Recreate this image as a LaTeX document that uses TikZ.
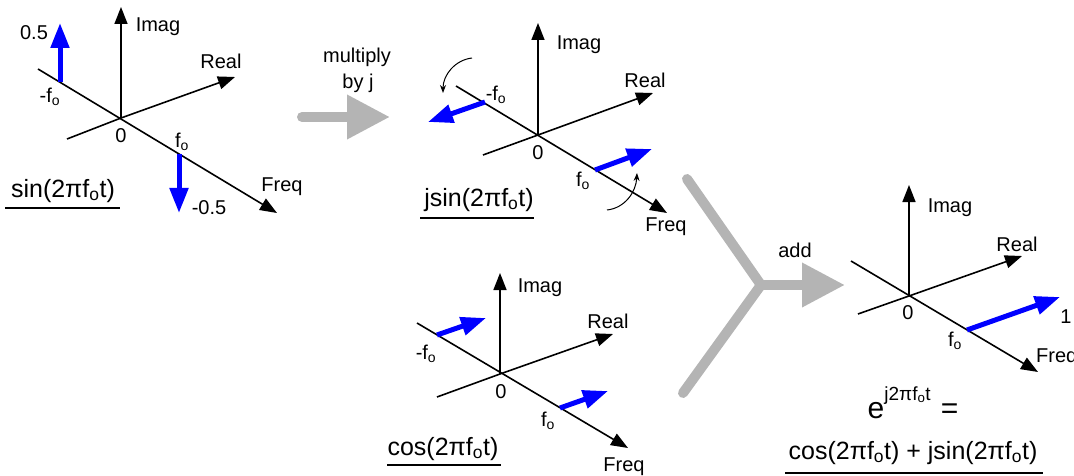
\documentclass[tikz,border=0pt]{standalone}
\usepackage{fontspec}
\setmainfont{Liberation Sans}
\usetikzlibrary{arrows.meta}
\definecolor{arrgray}{RGB}{180,180,180}
\definecolor{vecblue}{RGB}{0,0,255}
\begin{document}
\begin{tikzpicture}[x=1pt,y=-1pt,
  axis/.style={line width=1.6pt,-{Triangle[length=17pt,width=13pt]}},
  axline/.style={line width=1.6pt},
  vec/.style={draw=vecblue,line width=5pt,-{Triangle[length=25pt,width=18pt]},color=vecblue},
  rot/.style={line width=1pt,-{Stealth[length=8pt,width=6pt]}},
  lbl/.style={inner sep=0pt,font=\fontsize{20}{22}\selectfont},
  big/.style={inner sep=0pt,anchor=base,font=\fontsize{25}{28}\selectfont},
  uline/.style={line width=1.5pt},
  garrow/.style={draw=arrgray,line width=10pt,line cap=round,-{Triangle[length=43pt,width=42pt]},color=arrgray},
  gline/.style={draw=arrgray,line width=10pt,line cap=round,line join=round}]
\useasboundingbox (0,0) rectangle (1074,476);
\newcommand{\fo}{f\textsubscript{o}}
% ---------------- panel 1
\coordinate (O1) at (121,118);
\coordinate (I1) at (121,7);
\coordinate (Rb1) at (67,139);
\coordinate (Rt1) at (235,77);
\coordinate (Fb1) at (38,69);
\coordinate (Ft1) at (277,213);
\draw[axline] (Rb1) -- (O1);
\draw[axis] (O1) -- (Rt1);
\draw[axis] (Fb1) -- (Ft1);
\draw[axis] (O1) -- (I1);
\coordinate (a1s) at (60,82);
\coordinate (a1e) at (60,23);
\coordinate (b1s) at (179,154);
\coordinate (b1e) at (179,213);
\draw[vec] (a1s) -- (a1e);
\draw[vec] (b1s) -- (b1e);
\node[lbl] (imag1) at (158,27) {Imag};
\node[lbl] (real1) at (221,61) {Real};
\node[lbl] (freq1) at (282,187) {Freq};
\node[lbl] (zero1) at (121,136) {0};
\node[lbl] (pv1) at (34,33) {0.5};
\node[lbl] (mv1) at (209,208) {-0.5};
\node[lbl] (mf1) at (50,97) {-\fo};
\node[lbl] (pf1) at (182,142) {\fo};
\node[big] (t1) at (63,197) {sin(2π\fo t)};
\coordinate (u1a) at (5,208);
\coordinate (u1b) at (120,208);
\draw[uline] (u1a) -- (u1b);
% ---------------- gray arrow 1
\coordinate (g1s) at (302,117);
\coordinate (g1e) at (390,117);
\draw[garrow] (g1s) -- (g1e);
\node[lbl] (mul) at (357,57) {multiply};
\node[lbl] (byj) at (358,83) {by j};
% ---------------- panel 2
\coordinate (O2) at (538,135);
\coordinate (I2) at (538,23);
\coordinate (Rb2) at (483,155);
\coordinate (Rt2) at (653,93);
\coordinate (Fb2) at (456,86);
\coordinate (Ft2) at (667,213);
\draw[axline] (Rb2) -- (O2);
\draw[axis] (O2) -- (Rt2);
\draw[axis] (Fb2) -- (Ft2);
\draw[axis] (O2) -- (I2);
\coordinate (a2s) at (485,102);
\coordinate (a2e) at (428,122);
\coordinate (b2s) at (595,170);
\coordinate (b2e) at (652,149);
\draw[vec] (a2s) -- (a2e);
\draw[vec] (b2s) -- (b2e);
\coordinate (c1s) at (472,58);
\coordinate (c1e) at (443,93);
\draw[rot] (c1s) .. controls (455,60) and (443,75) .. (c1e);
\coordinate (c2s) at (607,210);
\coordinate (c2e) at (637,173);
\draw[rot] (c2s) .. controls (625,208) and (636,192) .. (c2e);
\node[lbl] (imag2) at (579,45) {Imag};
\node[lbl] (real2) at (645,80) {Real};
\node[lbl] (freq2) at (666,227) {Freq};
\node[lbl] (zero2) at (538,153) {0};
\node[lbl] (mf2) at (496,95) {-\fo};
\node[lbl] (pf2) at (583,181) {\fo};
\node[big] (t2) at (479,206) {jsin(2π\fo t)};
\coordinate (u2a) at (420,218);
\coordinate (u2b) at (534,218);
\draw[uline] (u2a) -- (u2b);
% ---------------- panel 3
\coordinate (O3) at (500,374);
\coordinate (I3) at (500,273);
\coordinate (Rb3) at (437,397);
\coordinate (Rt3) at (613,334);
\coordinate (Fb3) at (417,323);
\coordinate (Ft3) at (628,448);
\draw[axline] (Rb3) -- (O3);
\draw[axis] (O3) -- (Rt3);
\draw[axis] (Fb3) -- (Ft3);
\draw[axis] (O3) -- (I3);
\coordinate (a3s) at (437,335);
\coordinate (a3e) at (486,318);
\coordinate (b3s) at (560,408);
\coordinate (b3e) at (608,391);
\draw[vec] (a3s) -- (a3e);
\draw[vec] (b3s) -- (b3e);
\node[lbl] (imag3) at (540,288) {Imag};
\node[lbl] (real3) at (608,321) {Real};
\node[lbl] (freq3) at (624,467) {Freq};
\node[lbl] (zero3) at (501,392) {0};
\node[lbl] (mf3) at (426,354) {-\fo};
\node[lbl] (pf3) at (548,421) {\fo};
\node[big] (t3) at (443,455) {cos(2π\fo t)};
\coordinate (u3a) at (387,465);
\coordinate (u3b) at (501,465);
\draw[uline] (u3a) -- (u3b);
% ---------------- gray Y arrow
\coordinate (yt) at (687,179);
\coordinate (yj) at (761,285);
\coordinate (yb) at (683,393);
\coordinate (ye) at (845,285);
\draw[gline] (yt) -- (yj) -- (yb);
\draw[garrow] (yj) -- (ye);
\node[lbl] (add) at (795,250) {add};
% ---------------- panel 4
\coordinate (O4) at (909,296);
\coordinate (I4) at (909,185);
\coordinate (Rb4) at (858,314);
\coordinate (Rt4) at (1022,256);
\coordinate (Fb4) at (851,261);
\coordinate (Ft4) at (1038,372);
\draw[axline] (Rb4) -- (O4);
\draw[axis] (O4) -- (Rt4);
\draw[axis] (Fb4) -- (Ft4);
\draw[axis] (O4) -- (I4);
\coordinate (a4s) at (967,330);
\coordinate (a4e) at (1060,297);
\draw[vec] (a4s) -- (a4e);
\node[lbl] (imag4) at (950,208) {Imag};
\node[lbl] (real4) at (1017,244) {Real};
\node[lbl,anchor=west] (freq4) at (1036,358) {Freq};
\node[lbl] (zero4) at (908,313) {0};
\node[lbl] (pf4) at (955,341) {\fo};
\node[lbl] (one4) at (1066,317) {1};
\node[big,font=\fontsize{30}{32}\selectfont] (t4a) at (913,418) {e\raisebox{18pt}{\fontsize{19}{21}\selectfont j2π\fo t}\hspace{10pt}=};
\node[big] (t4b) at (913,459) {cos(2π\fo t) + jsin(2π\fo t)};
\coordinate (u4a) at (785,473);
\coordinate (u4b) at (1043,473);
\draw[uline] (u4a) -- (u4b);
\end{tikzpicture}
\end{document}
